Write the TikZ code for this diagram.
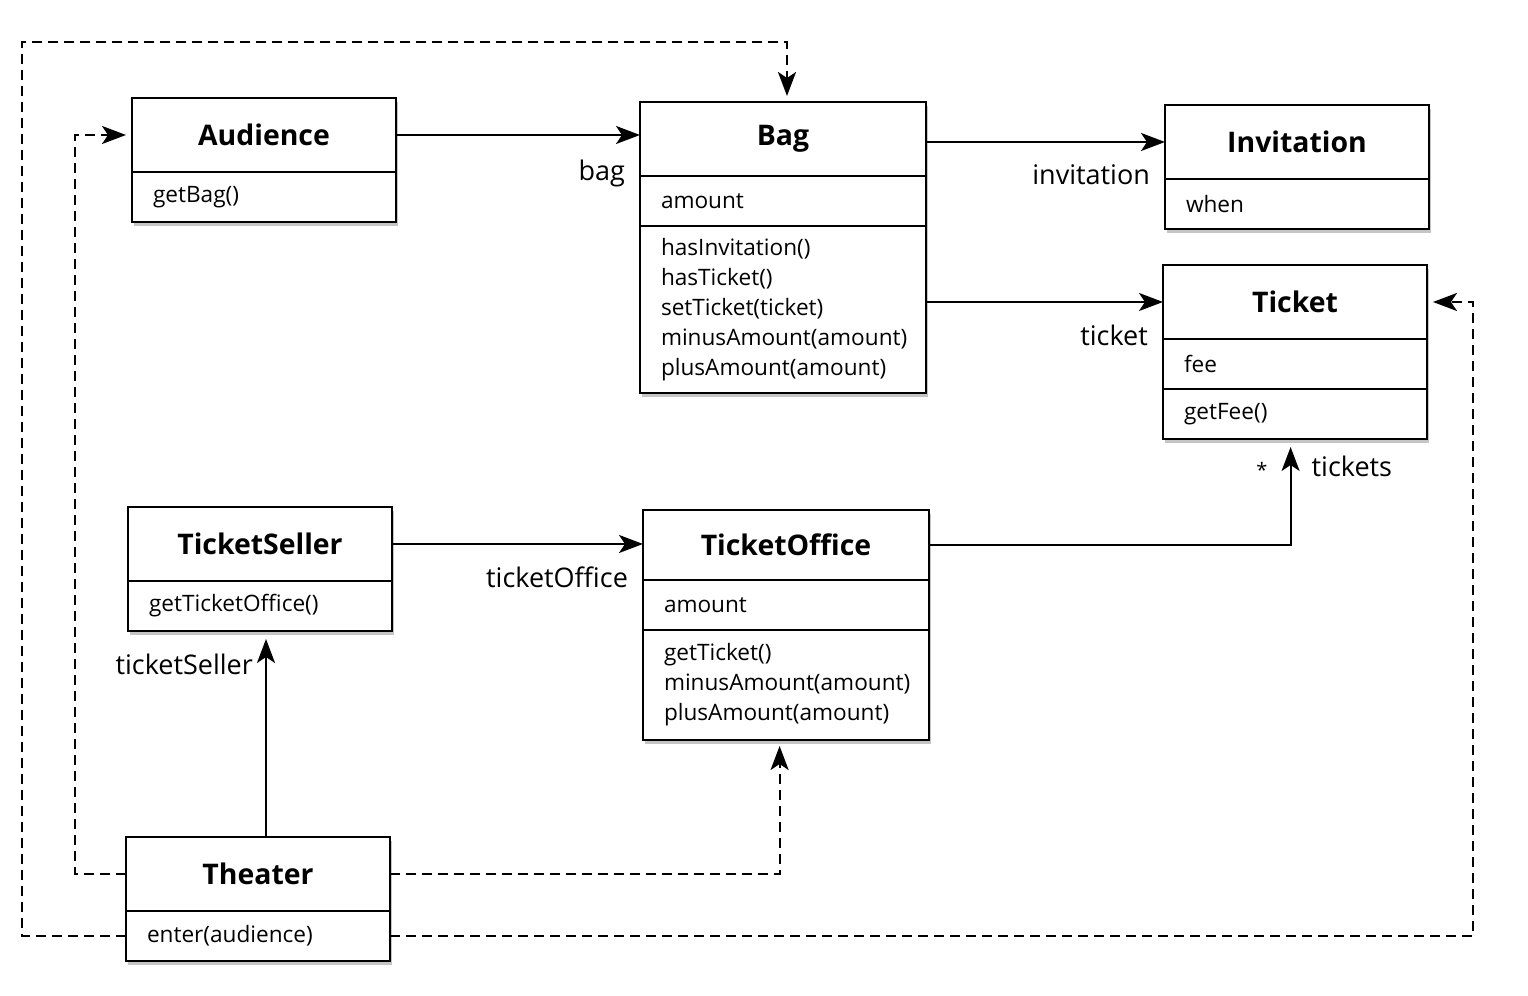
\documentclass[tikz,border=0pt]{standalone}
\usepackage{fontspec}
\setmainfont{Open Sans}
\usetikzlibrary{positioning, arrows.meta, shadows}

\begin{document}
\begin{tikzpicture}[x=0.5pt, y=0.5pt,
			box/.style={draw, rectangle, fill=white, line width=1.4pt, outer sep=0pt,
				drop shadow={shadow xshift=1.2pt, shadow yshift=-2pt, opacity=0.45}},
			classTitle/.style={box, minimum width=#1, minimum height=37pt,
				font=\fontsize{14.2}{17}\selectfont\bfseries},
			member/.style={box, text width=#1, minimum height=25pt, inner xsep=10.5pt,
				align=left, font=\fontsize{11.3}{15}\selectfont},
			lbl/.style={inner sep=2pt, font=\fontsize{13.5}{16}\selectfont},
			assoc/.style={line width=1.1pt, -{Stealth[length=12pt, width=9pt, inset=3pt]}},
			dep/.style={assoc, dash pattern=on 5pt off 3pt, shorten >=3pt},
			]
			\path[use as bounding box, fill=white] (0,0) rectangle (1528,996);
			
			% classes
			\draw node[classTitle=132pt, anchor=north west] (audTitle) at (132,898) {Audience};
			\draw node[member=111pt][below=0pt of audTitle] (audMeth) {getBag()};
			
			\draw node[classTitle=143pt, anchor=north west] (bagTitle) at (640,894) {Bag};
			\draw node[member=122pt][below=0pt of bagTitle] (bagAttr) {amount};
			\draw node[member=122pt, minimum height=83.5pt][below=0pt of bagAttr] (bagMeth)
			{hasInvitation()\\hasTicket()\\setTicket(ticket)\\minusAmount(amount)\\plusAmount(amount)};
			
			\draw node[classTitle=132pt, anchor=north west] (invTitle) at (1165,891) {Invitation};
			\draw node[member=111pt][below=0pt of invTitle] (invAttr) {when};
			
			\draw node[classTitle=132pt, anchor=north west] (tickTitle) at (1163,731) {Ticket};
			\draw node[member=111pt][below=0pt of tickTitle] (tickAttr) {fee};
			\draw node[member=111pt][below=0pt of tickAttr] (tickMeth) {getFee()};
			
			\draw node[classTitle=132pt, anchor=north west] (tsTitle) at (128,489) {TicketSeller};
			\draw node[member=111pt][below=0pt of tsTitle] (tsMeth) {getTicketOffice()};
			
			\draw node[classTitle=143pt, anchor=north west, minimum height=35pt] (toTitle) at (643,486) {TicketOffice};
			\draw node[member=122pt][below=0pt of toTitle] (toAttr) {amount};
			\draw node[member=122pt, minimum height=55pt][below=0pt of toAttr] (toMeth)
			{getTicket()\\minusAmount(amount)\\plusAmount(amount)};
			
			\draw node[classTitle=132pt, anchor=north west] (thTitle) at (126,159) {Theater};
			\draw node[member=111pt][below=0pt of thTitle] (thMeth) {enter(audience)};
			
			% Arrow
			\draw [assoc] (audTitle.east) -- (bagTitle.west |- audTitle.east)
			node[lbl, anchor=north east, xshift=-5pt, yshift=-10pt] (bagLbl) {bag};
			\draw [assoc] (bagTitle.east |- invTitle.west) -- (invTitle.west)
			node[lbl, anchor=north east, xshift=-5pt, yshift=-9pt] (invLbl) {invitation};
			\draw [assoc] (bagMeth.east |- tickTitle.west) -- (tickTitle.west)
			node[lbl, anchor=north east, xshift=-5pt, yshift=-9pt] (tickLbl) {ticket};
			\draw [assoc] (tsTitle.east) -- (toTitle.west |- tsTitle.east)
			node[lbl, anchor=north east, xshift=-5pt, yshift=-9pt] (toLbl) {ticketOffice};
			\draw [assoc, shorten >=4pt] (toTitle.east) -| ([xshift=-2.2pt]tickMeth.south)
			node[lbl, anchor=north west, xshift=8pt, yshift=-6pt] (ticketsLbl) {tickets}
			node[lbl, anchor=north east, xshift=-9pt, yshift=-9pt, font=\fontsize{10}{12}\selectfont] (manyLbl) {*};
			\draw [assoc, shorten >=4pt] ([xshift=3pt]tsMeth.south |- thTitle.north) -- ([xshift=3pt]tsMeth.south)
			node[lbl, anchor=north east, xshift=-4pt, yshift=-9pt] (tsLbl) {ticketSeller};
			
			\draw [dep] (thTitle.west) -- ++(-51,0) |- (audTitle.west);
			\draw [dep] (thTitle.east) -| ([xshift=-3.2pt]toMeth.south);
			\draw [dep] (thMeth.west) -- ++(-104,0) |- ([xshift=2pt, yshift=30pt]bagTitle.north) -- ([xshift=2pt]bagTitle.north);
			\draw [dep] (thMeth.east) -- ++(1083,0) |- (tickTitle.east);
			
		\end{tikzpicture}
\end{document}
